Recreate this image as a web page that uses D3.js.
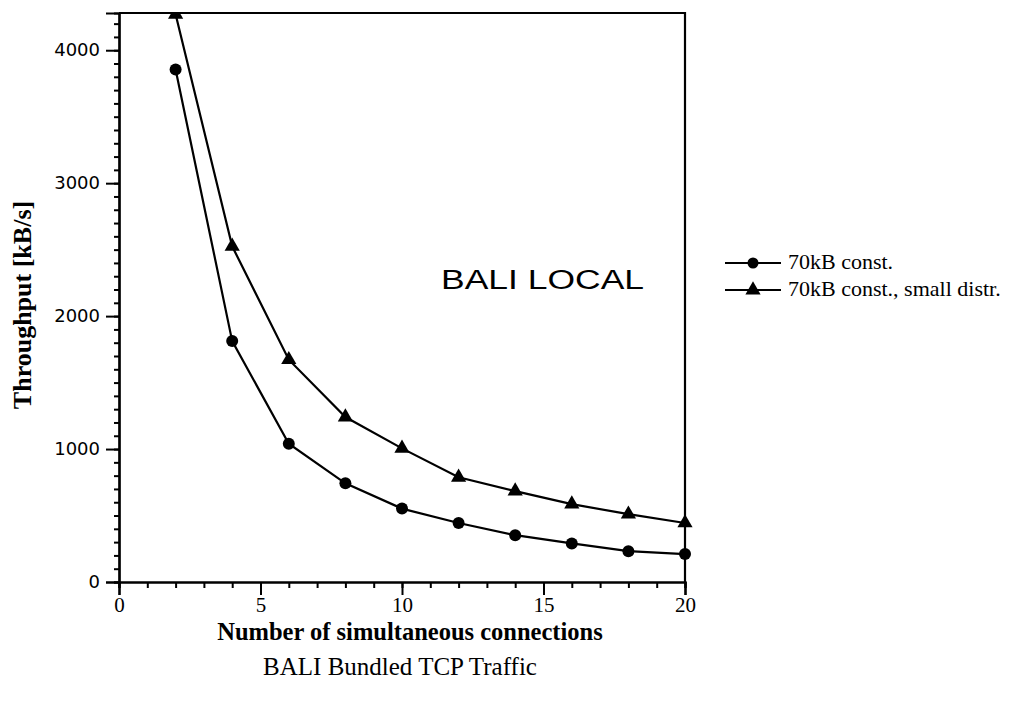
<!DOCTYPE html>
<html>
<head>
<meta charset="utf-8">
<script src="https://cdn.jsdelivr.net/npm/d3@7"></script>
<style>
  html, body { margin: 0; padding: 0; background: #fff; }
  svg { display: block; }
</style>
</head>
<body>
<svg id="chart" width="1032" height="707"></svg>
<script>
// Number of simultaneous connections
const connections = [2, 4, 6, 8, 10, 12, 14, 16, 18, 20];
// Throughput [kB/s], 70kB constant transfers
const constThroughput = [3855, 1812, 1040, 742, 552, 444, 352, 290, 232, 210];
// Throughput [kB/s], 70kB constant with small distribution
const distrThroughput = [4270, 2525, 1672, 1241, 1005, 788, 684, 586, 510, 444];

const seriesNames = ["70kB const.", "70kB const., small distr."];
const xTickLabels = [0, 5, 10, 15, 20];
const yTickLabels = [0, 1000, 2000, 3000, 4000];

const svg = d3.select("#chart");
const serif = "'Liberation Serif', 'Times New Roman', serif";
const sans = "'Liberation Sans', Arial, sans-serif";

const x = d3.scaleLinear().domain([0, 20]).range([119, 685]);
const y = d3.scaleLinear().domain([0, 4280]).range([582, 13]);

// plot area clip, so markers at the ceiling are cut by the frame
svg.append("defs").append("clipPath").attr("id", "plot-clip")
  .append("rect").attr("x", x(0)).attr("y", y(4280))
  .attr("width", x(20) - x(0) + 8).attr("height", y(0) - y(4280) + 8);

// frame: top and right borders
svg.append("path")
  .attr("d", `M${x(0)},${y(4280)}H${x(20)}V${y(0)}`)
  .attr("fill", "none").attr("stroke", "#000").attr("stroke-width", 2.2);

// x axis: minor ticks each connection, major every 5
const xMinor = svg.append("g").attr("transform", `translate(0,${y(0)})`)
  .call(d3.axisBottom(x).tickValues(d3.range(0, 21, 1)).tickSize(6).tickFormat(""));
const xMajor = svg.append("g").attr("transform", `translate(0,${y(0)})`)
  .call(d3.axisBottom(x).tickValues(xTickLabels).tickSize(13).tickPadding(2).tickFormat(d3.format("d")));
[xMinor, xMajor].forEach(g => {
  g.select(".domain").attr("stroke-width", 2.2);
  g.selectAll(".tick line").attr("stroke-width", 2);
});
xMajor.selectAll(".tick text")
  .attr("font-family", serif).attr("font-size", 21).attr("fill", "#000");

// y axis: minor ticks every 100, major every 1000
const yMinor = svg.append("g").attr("transform", `translate(${x(0)},0)`)
  .call(d3.axisLeft(y).tickValues(d3.range(0, 4201, 100)).tickSize(5).tickFormat(""));
const yMajor = svg.append("g").attr("transform", `translate(${x(0)},0)`)
  .call(d3.axisLeft(y).tickValues(yTickLabels).tickSize(13).tickPadding(6).tickFormat(d3.format("d")));
[yMinor, yMajor].forEach(g => {
  g.select(".domain").attr("stroke-width", 2.2);
  g.selectAll(".tick line").attr("stroke-width", 2);
});
yMajor.selectAll(".tick text")
  .attr("font-family", "'DejaVu Sans', sans-serif").attr("font-size", 18).attr("fill", "#000");

// data lines and markers
const line = d3.line().x((d, i) => x(connections[i])).y(d => y(d));
const tri = d3.symbol().type(d3.symbolTriangle).size(100);
const plot = svg.append("g").attr("clip-path", "url(#plot-clip)");

plot.append("path").datum(constThroughput).attr("d", line)
  .attr("fill", "none").attr("stroke", "#000").attr("stroke-width", 2.2);
plot.append("path").datum(distrThroughput).attr("d", line)
  .attr("fill", "none").attr("stroke", "#000").attr("stroke-width", 2.2);

plot.append("g").selectAll("circle").data(constThroughput).join("circle")
  .attr("cx", (d, i) => x(connections[i])).attr("cy", d => y(d)).attr("r", 6).attr("fill", "#000");
plot.append("g").selectAll("path").data(distrThroughput).join("path")
  .attr("d", tri).attr("transform", (d, i) => `translate(${x(connections[i])},${y(d)})`).attr("fill", "#000");

// in-plot annotation
svg.append("text").attr("x", 441).attr("y", 289)
  .attr("font-family", sans).attr("font-size", 27)
  .attr("textLength", 203).attr("lengthAdjust", "spacingAndGlyphs")
  .text("BALI LOCAL");

// axis titles
svg.append("text")
  .attr("transform", "translate(31,305) rotate(-90)")
  .attr("text-anchor", "middle").attr("font-family", serif).attr("font-weight", "bold").attr("font-size", 26)
  .text("Throughput [kB/s]");
svg.append("text").attr("x", 410).attr("y", 640)
  .attr("text-anchor", "middle").attr("font-family", serif).attr("font-weight", "bold").attr("font-size", 24.5)
  .text("Number of simultaneous connections");
svg.append("text").attr("x", 400).attr("y", 675)
  .attr("text-anchor", "middle").attr("font-family", serif).attr("font-size", 25)
  .text("BALI Bundled TCP Traffic");

// legend
const legend = svg.append("g");
seriesNames.forEach((name, i) => {
  const ly = 263 + i * 27;
  legend.append("line").attr("x1", 725).attr("x2", 781).attr("y1", ly).attr("y2", ly)
    .attr("stroke", "#000").attr("stroke-width", 2.2);
  if (i === 0) {
    legend.append("circle").attr("cx", 753).attr("cy", ly).attr("r", 5.5).attr("fill", "#000");
  } else {
    legend.append("path").attr("d", tri).attr("transform", `translate(753,${ly})`).attr("fill", "#000");
  }
  legend.append("text").attr("x", 788).attr("y", ly + 6)
    .attr("font-family", serif).attr("font-size", 22).text(name);
});
</script>
</body>
</html>
